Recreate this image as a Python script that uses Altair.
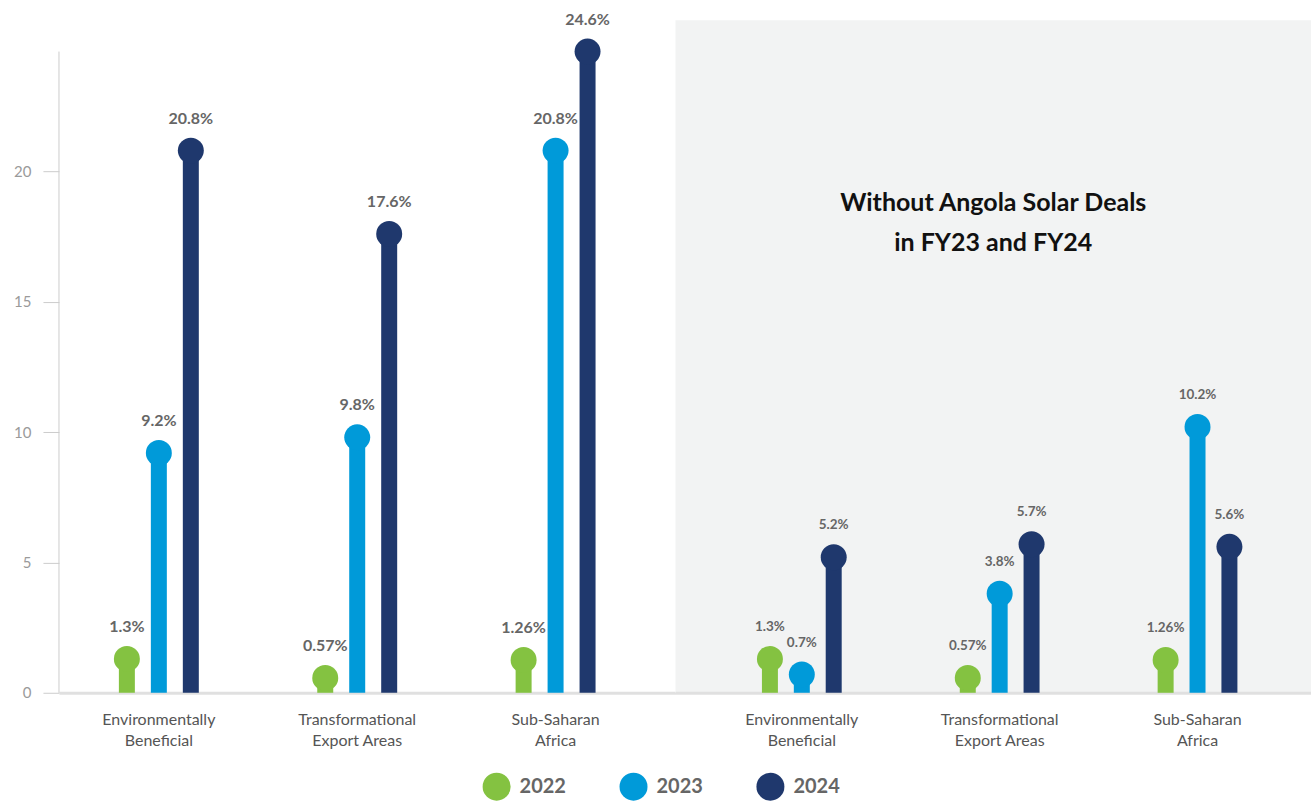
import altair as alt
import pandas as pd

# ---- data ----
categories = ["Environmentally Beneficial", "Transformational Export Areas", "Sub-Saharan Africa"]
years = ["2022", "2023", "2024"]
year_colors = ["#84c241", "#009ad9", "#1f386d"]

total_2022 = [1.3, 0.57, 1.26]
total_2023 = [9.2, 9.8, 20.8]
total_2024 = [20.8, 17.6, 24.6]

excl_2022 = [1.3, 0.57, 1.26]
excl_2023 = [0.7, 3.8, 10.2]
excl_2024 = [5.2, 5.7, 5.6]

y_ticks = [0, 5, 10, 15, 20]
note_lines = ["Without Angola Solar Deals", "in FY23 and FY24"]

FONT = "Lato"


def frame(v22, v23, v24):
    rows = []
    for year, vals in zip(years, [v22, v23, v24]):
        for cat, v in zip(categories, vals):
            rows.append({"category": cat, "year": year, "value": v, "label": f"{v:g}%"})
    return pd.DataFrame(rows)


df_total = frame(total_2022, total_2023, total_2024)
df_excl = frame(excl_2022, excl_2023, excl_2024)

y_scale = alt.Scale(domain=[0, 25.8], nice=False)
label_expr = ("[slice(datum.label, 0, indexof(datum.label, ' ')), "
              "slice(datum.label, indexof(datum.label, ' ') + 1)]")


def y_axis(show):
    if not show:
        return None
    return alt.Axis(title=None, values=y_ticks, domain=False, grid=False,
                    tickSize=16, tickColor="#cccccc", tickWidth=1,
                    labelColor="#9a9a9a", labelFontSize=15, labelPadding=12,
                    labelFont=FONT, format="d")


def panel(df, width, pad_outer, align, label_size, show_y, extra=None):
    x = alt.X("category:N", sort=categories,
              scale=alt.Scale(paddingInner=0.194, paddingOuter=pad_outer, align=align),
              axis=alt.Axis(title=None, labelExpr=label_expr, labelAngle=0,
                            domainColor="#e0e0e0", domainWidth=3, ticks=False,
                            labelPadding=19, labelFontSize=16, labelColor="#555555",
                            labelFont=FONT, labelLineHeight=21))
    xo = alt.XOffset("year:N", sort=years,
                     scale=alt.Scale(paddingInner=0, paddingOuter=1))
    y = alt.Y("value:Q", scale=y_scale, axis=y_axis(show_y))
    color = alt.Color("year:N", sort=years,
                      scale=alt.Scale(domain=years, range=year_colors),
                      legend=alt.Legend(title=None, symbolType="circle"))
    base = alt.Chart(df).encode(x=x, xOffset=xo, y=y, color=color)
    stems = base.mark_bar(size=16)
    dots = base.mark_circle(size=676, opacity=1)
    labels = base.mark_text(dy=-32, fontSize=label_size, fontWeight="bold",
                            font=FONT).encode(text="label:N", color=alt.value("#666666"))
    layers = [stems, dots, labels]
    if show_y:
        axis_line = alt.Chart(df).transform_aggregate(
            top="max(value)"
        ).transform_calculate(bottom="0").mark_rule(
            color="#cccccc", strokeWidth=1
        ).encode(x=alt.value(0),
                 y=alt.Y("bottom:Q", scale=y_scale, axis=y_axis(True)),
                 y2="top:Q")
        layers = [axis_line] + layers
    if extra is not None:
        layers.append(extra)
    return alt.layer(*layers).properties(width=width, height=673)


left = panel(df_total, 617, 0.151, 0.333, 16, True)

note = alt.Chart(pd.DataFrame({"note": ["\n".join(note_lines)]})).mark_text(
    font=FONT, fontSize=25, fontWeight="bold", color="#111111",
    lineBreak="\n", lineHeight=40, align="center", baseline="middle"
).encode(text="note:N", x=alt.value(318), y=alt.value(183))

right = panel(df_excl, 636, 0.203, 0.58, 13.5, False, extra=note).properties(
    view=alt.ViewBackground(fill="#f2f3f3", strokeWidth=0),
)

chart = alt.hconcat(left, right, spacing=0, bounds="flush").resolve_scale(
    x="independent", xOffset="independent"
).properties(
    padding={"left": 13, "top": 11, "right": 0, "bottom": 0}
).configure(font=FONT).configure_view(strokeWidth=0).configure_legend(
    orient="none", legendX=424, legendY=753, direction="horizontal",
    symbolSize=784, symbolStrokeWidth=0, symbolOpacity=1,
    labelFontSize=20, labelFont=FONT, labelFontWeight="bold", labelColor="#666666",
    labelOffset=9, columnPadding=53, padding=0, labelLimit=0
)

chart.save("out.html", embed_options={"renderer": "svg", "actions": False})
